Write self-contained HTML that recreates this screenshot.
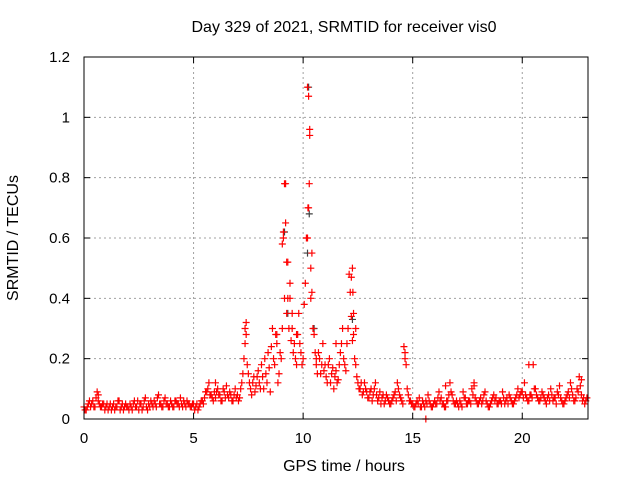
<!DOCTYPE html>
<html><head><meta charset="utf-8">
<style>
body{margin:0;background:#fff;}
svg{display:block;font-family:"Liberation Sans",sans-serif;}
</style></head>
<body>
<svg id="chart" width="640" height="480">
<text x="344" y="32" font-size="16" text-anchor="middle">Day 329 of 2021, SRMTID for receiver vis0</text>
<text x="344" y="471" font-size="16" text-anchor="middle">GPS time / hours</text>
<text transform="translate(18,238) rotate(-90)" font-size="16" text-anchor="middle">SRMTID / TECUs</text>
<g id="grid"></g>
<g id="ticks"></g>
<g id="marks"></g>
<rect x="84" y="57" width="504" height="362" fill="none" stroke="#000" stroke-width="1"/>
</svg>
<script>
const xTicks=[0,5,10,15,20];
const yTicks=[0,0.2,0.4,0.6,0.8,1,1.2];
const yTickLabels=["0","0.2","0.4","0.6","0.8","1","1.2"];
const startHour=0, stepHour=0.1;
const values=[
.04,.03,.05,.04,.06,.04,.09,.05,.04,.05,
.04,.03,.05,.04,.03,.04,.06,.04,.03,.05,
.04,.05,.03,.06,.04,.03,.05,.04,.07,.03,
.04,.05,.06,.04,.08,.05,.04,.07,.05,.04,
.05,.04,.06,.05,.07,.04,.05,.06,.05,.04,
.05,.04,.03,.05,.06,.07,.09,.12,.08,.06,
.07,.10,.08,.06,.09,.11,.07,.08,.06,.10,
.08,.07,.12,.20,.32,.15,.10,.12,.09,.14,
.12,.18,.10,.15,.22,.09,.30,.18,.25,.15,
.20,.62,.78,.52,.40,.30,.25,.18,.35,.22,
.20,.45,1.10,.96,.55,.28,.18,.22,.15,.25,
.18,.12,.20,.15,.10,.16,.13,.22,.30,.18,
.25,.48,.34,.28,.18,.12,.10,.08,.12,.09,
.07,.10,.08,.12,.06,.09,.07,.05,.08,.06,
.05,.07,.09,.12,.08,.06,.24,.18,.08,.06,
.05,.04,.06,.07,.04,.05,.06,.08,.05,.04,
.06,.05,.09,.07,.05,.04,.06,.12,.08,.05,
.06,.04,.05,.09,.07,.05,.06,.10,.11,.06,
.05,.07,.06,.09,.05,.04,.06,.08,.07,.05,
.06,.09,.05,.07,.08,.06,.05,.07,.10,.08,
.09,.12,.07,.06,.08,.18,.10,.07,.06,.09,
.07,.05,.08,.10,.06,.07,.09,.11,.06,.05,
.07,.09,.12,.08,.06,.10,.14,.08,.07,.06];
const halfStepValues=[
.03,.04,.06,.05,.04,.07,.06,.04,.05,.03,
.05,.04,.03,.05,.04,.06,.03,.05,.04,.04,
.03,.04,.05,.04,.06,.05,.03,.06,.04,.05,
.06,.04,.05,.07,.05,.04,.06,.05,.04,.06,
.04,.06,.05,.04,.05,.06,.04,.05,.04,.05,
.03,.05,.04,.06,.05,.09,.10,.08,.07,.09,
.09,.08,.06,.10,.07,.08,.09,.06,.08,.07,
.06,.10,.15,.25,.18,.12,.08,.14,.11,.16,
.10,.14,.20,.12,.17,.24,.20,.28,.12,.22,
.30,.40,.35,.30,.26,.22,.20,.28,.25,.18,
.38,.60,.70,.40,.30,.22,.15,.20,.18,.16,
.14,.18,.12,.17,.14,.12,.18,.25,.20,.16,
.30,.42,.26,.20,.14,.10,.12,.09,.10,.07,
.09,.06,.10,.08,.07,.05,.08,.06,.07,.05,
.06,.08,.06,.10,.07,.05,.20,.10,.06,.05,
.04,.05,.05,.04,.06,.04,.05,.06,.04,.05,
.05,.07,.06,.05,.04,.06,.08,.09,.06,.05,
.05,.06,.04,.07,.05,.06,.05,.08,.07,.05,
.06,.05,.08,.06,.04,.05,.07,.06,.05,.06,
.05,.07,.06,.05,.07,.05,.06,.08,.07,.09,
.07,.08,.06,.08,.07,.10,.08,.06,.07,.08,
.06,.07,.06,.08,.07,.05,.08,.07,.05,.06,
.08,.07,.10,.06,.07,.09,.11,.06,.05,.07];
const extraTimes=[9.15,9.2,9.1,9.25,10.25,10.3,10.28,10.22,10.2,10.35,12.25,12.27,12.2,9.4,9.5,14.65,7.4,15.6,8.8,9.7,10.6,11.5,12.4,6.0,16.5,17.8,20.3,7.35,9.05,9.3,10.4,12.3,0.65,22.7];
const extraValues=[0.78,0.65,0.6,0.52,1.07,0.94,0.78,0.7,0.6,0.5,0.5,0.42,0.47,0.45,0.35,0.22,0.28,0.0,0.28,0.28,0.2,0.25,0.3,0.12,0.11,0.12,0.18,0.3,0.58,0.4,0.42,0.35,0.08,0.13];
const darkTimes=[10.25,10.28,9.15,10.2,12.25,9.3,10.5];
const darkValues=[1.1,0.68,0.62,0.55,0.33,0.35,0.3];

const X0=84,X1=588,Y0=419,Y1=57,XMAX=23.0,YMAX=1.2;
const sx=v=>X0+v/XMAX*(X1-X0);
const sy=v=>Y0-v/YMAX*(Y0-Y1);
const NS="http://www.w3.org/2000/svg";
const grid=document.getElementById('grid'),ticks=document.getElementById('ticks'),marks=document.getElementById('marks');
function mk(tag,attrs,parent){const e=document.createElementNS(NS,tag);for(const k in attrs)e.setAttribute(k,attrs[k]);parent.appendChild(e);return e;}
xTicks.forEach(t=>{
  const x=sx(t);
  if(t>0){const g=mk('line',{x1:x,x2:x,y1:Y1,y2:Y0,stroke:'#a0a0a0','stroke-dasharray':'2,3'},grid);
  
  }
  mk('line',{x1:x,x2:x,y1:Y0,y2:Y0-6,stroke:'#000'},ticks);
  mk('line',{x1:x,x2:x,y1:Y1,y2:Y1+6,stroke:'#000'},ticks);
  const l=mk('text',{x:x,y:443,'font-size':15,'text-anchor':'middle'},ticks);l.textContent=t;
  
  
});
yTicks.forEach((t,i)=>{
  const y=sy(t);
  if(t>0&&t<YMAX){const g=mk('line',{x1:X0,x2:X1,y1:y,y2:y,stroke:'#a0a0a0','stroke-dasharray':'2,3'},grid);
  
  }
  mk('line',{x1:X0,x2:X0+6,y1:y,y2:y,stroke:'#000'},ticks);
  mk('line',{x1:X1,x2:X1-6,y1:y,y2:y,stroke:'#000'},ticks);
  const l=mk('text',{x:70,y:y+5,'font-size':15,'text-anchor':'end'},ticks);l.textContent=yTickLabels[i];
  
  
});
function plus(t,v,color){
  const x=sx(t),y=sy(v);
  const p=mk('path',{d:`M${x-3.5},${y}H${x+3.5}M${x},${y-3.5}V${y+3.5}`,stroke:color,'stroke-width':1.2,fill:'none'},marks);
  
  
}
darkTimes.forEach((t,i)=>plus(t,darkValues[i],'#404040'));
values.forEach((v,i)=>plus(startHour+i*stepHour,v,'#ff0000'));
halfStepValues.forEach((v,i)=>plus(startHour+(i+0.5)*stepHour,v,'#ff0000'));
extraTimes.forEach((t,i)=>plus(t,extraValues[i],'#ff0000'));
</script>
</body></html>
